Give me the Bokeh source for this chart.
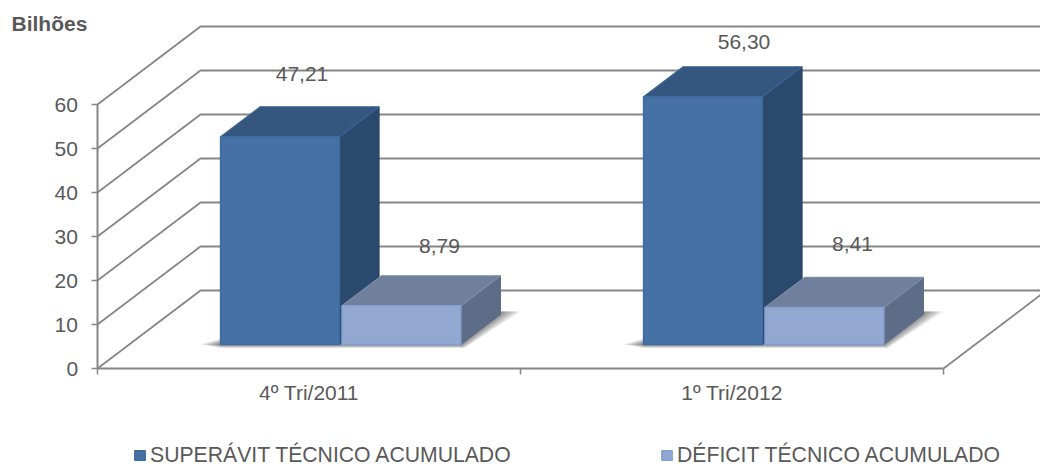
from bokeh.plotting import figure
from bokeh.embed import file_html
from bokeh.resources import INLINE
from bokeh.models import Range1d, FixedTicker, Legend, LegendItem, Label, LinearAxis
from bokeh.core.properties import value

categories = ["4º Tri/2011", "1º Tri/2012"]
superavit = [47.21, 56.30]
deficit = [8.79, 8.41]
superavit_labels = ["47,21", "56,30"]
deficit_labels = ["8,79", "8,41"]
y_ticks = [0, 10, 20, 30, 40, 50, 60]
series_names = ["SUPERÁVIT TÉCNICO ACUMULADO", "DÉFICIT TÉCNICO ACUMULADO"]

FONT = "Liberation Sans"
FS = "21px"
TXT = "#595959"
GRID = "#868686"
PX_X = 423.0   # px per category
PX_Y = 4.4     # px per value unit
DX, DY = 103 / PX_X, 78 / PX_Y   # wall depth in data units
D0, BD = 24 / 78, 0.385          # bar front depth, bar depth
W, GAP = 0.281, 0.006
START = 0.291 - D0 * DX


def prj(x, y, d):
    return x + d * DX, y + d * DY


p = figure(width=1040, height=464, frame_width=1040, frame_height=464,
           output_backend="svg", toolbar_location=None, y_axis_location="right",
           x_range=Range1d(-97 / PX_X, 943 / PX_X), y_range=Range1d(-96 / PX_Y, 368 / PX_Y),
           min_border_left=0, min_border_right=0, min_border_top=0, min_border_bottom=0,
           outline_line_color=None, background_fill_color="white")
p.xgrid.visible = False
p.ygrid.visible = False

# walls
wx, wy = [], []
for t in y_ticks:
    a, b = prj(0, t, 0), prj(0, t, 1)
    c = prj(3, t, 1)
    wx.append([a[0], b[0], c[0]])
    wy.append([a[1], b[1], c[1]])
p.multi_line(wx, wy, line_color=GRID, line_width=1.8)
a, b = prj(2, 0, 0), prj(2, 0, 1)
p.line([a[0], b[0]], [a[1], b[1]], line_color=GRID, line_width=1.8)

# soft floor shadows
for i in range(2):
    xl = prj(i + START, 0, D0)[0]
    xr = xl + 2 * W + GAP
    xb = prj(xr, 0, BD)[0]
    f = prj(0, 0, D0)[1]
    bk = prj(0, 0, D0 + BD)[1]
    for k in range(8):
        e = (k + 1) / 8
        sx = [xl - 20 / PX_X * e, xl, xr + 4 / PX_X * e, xb + 20 / PX_X * e, xb, xl]
        sy = [f, f - 3.5 / PX_Y * e, f - 3.5 / PX_Y * e, bk + 3 / PX_Y, bk + 3 / PX_Y, f + 6 / PX_Y * e]
        p.patch(sx, sy, fill_color="black", fill_alpha=0.07, line_color=None)


def faces(values, off):
    fx, fy, tx, ty, sx, sy = [], [], [], [], [], []
    for i, v in enumerate(values):
        l = i + START + off
        r = l + W
        a0, a1 = prj(l, 0, D0), prj(r, 0, D0)
        b0, b1 = prj(l, v, D0), prj(r, v, D0)
        c0, c1 = prj(l, v, D0 + BD), prj(r, v, D0 + BD)
        e1 = prj(r, 0, D0 + BD)
        fx.append([a0[0], a1[0], b1[0], b0[0]])
        fy.append([a0[1], a1[1], b1[1], b0[1]])
        tx.append([b0[0], b1[0], c1[0], c0[0]])
        ty.append([b0[1], b1[1], c1[1], c0[1]])
        sx.append([a1[0], e1[0], c1[0], b1[0]])
        sy.append([a1[1], e1[1], c1[1], b1[1]])
    return fx, fy, tx, ty, sx, sy


styles = [("#4571a5", "#34567f", "#2b486d", "#3f6aa0", "#3b6497"),
          ("#93a8d0", "#6f7f9c", "#5d6d88", "#84a0d2", "#7d8ca8")]
fronts = []
for values, off, st in zip((superavit, deficit), (0, W + GAP), styles):
    fx, fy, tx, ty, sx, sy = faces(values, off)
    p.patches(sx, sy, fill_color=st[2], line_color=st[2], line_width=1)
    p.patches(tx, ty, fill_color=st[1], line_color=st[4], line_width=1.2)
    fronts.append(p.patches(fx, fy, fill_color=st[0], line_color=st[3], line_width=1.5))

# data labels
lx, ly, lt, ox, oy = [], [], [], [], []
centers = [START + W / 2, START + W + GAP + W / 2]
shift_x = [[22, 41], [38, 28]]
shift_y = [[-63, -55], [-60, -63]]
for s, (values, labels) in enumerate(((superavit, superavit_labels), (deficit, deficit_labels))):
    for i, v in enumerate(values):
        q = prj(i + centers[s], v, D0)
        lx.append(q[0]); ly.append(q[1]); lt.append(labels[i])
        ox.append(shift_x[s][i]); oy.append(shift_y[s][i])
p.text(lx, ly, text=lt, x_offset=ox, y_offset=oy, text_align="center", text_baseline="middle",
       text_color=TXT, text_font=value(FONT), text_font_size=FS)

# axes (pinned inside the full-canvas frame); labels of one digit get their own
# axis so that they end at the same place as the two-digit ones
ya = p.yaxis[0]
ya.ticker = FixedTicker(ticks=y_ticks[1:])
ya.bounds = (0, 60)
ya.major_label_standoff = -43
ya0 = LinearAxis(ticker=FixedTicker(ticks=y_ticks[:1]), bounds=(0, 60), major_label_standoff=-31)
ya0.axis_line_color = None
p.add_layout(ya0, "right")
for ax in (ya, ya0):
    ax.fixed_location = 0
    ax.major_tick_in = 6
    ax.major_tick_out = 0
    ax.minor_tick_line_color = None
    ax.major_tick_line_color = GRID
    ax.major_tick_line_width = 1.5
xa = p.xaxis[0]
xa.fixed_location = 0
xa.ticker = FixedTicker(ticks=[0.5, 1.5], minor_ticks=[0, 1, 2])
xa.major_label_overrides = {0.5: categories[0], 1.5: categories[1]}
xa.bounds = (0, 2)
xa.major_tick_line_color = None
xa.minor_tick_in = 0
xa.minor_tick_out = 6
xa.minor_tick_line_color = GRID
xa.minor_tick_line_width = 1.5
xa.major_tick_out = 6
xa.major_tick_in = 0
xa.major_label_standoff = 6
ya.axis_line_color = GRID
ya.axis_line_width = 2
xa.axis_line_color = GRID
xa.axis_line_width = 2
for ax in (xa, ya, ya0):
    ax.major_label_text_color = TXT
    ax.major_label_text_font = FONT
    ax.major_label_text_font_size = FS

p.add_layout(Label(x=-86 / PX_X, y=(368 - 23) / PX_Y, text="Bilhões", text_font=FONT,
                   text_font_style="bold", text_font_size=FS, text_color=TXT,
                   text_baseline="middle"))

for name, r, loc in zip(series_names, fronts, ((133, -3), (660, -3))):
    lg = Legend(items=[LegendItem(label=name, renderers=[r])], location=loc,
                background_fill_alpha=0, border_line_color=None, margin=0, padding=0,
                glyph_width=13, glyph_height=12, label_standoff=4,
                label_text_font=FONT, label_text_font_size="21.2px", label_text_color=TXT)
    p.add_layout(lg)

open("out.html", "w").write(file_html(p, INLINE))
